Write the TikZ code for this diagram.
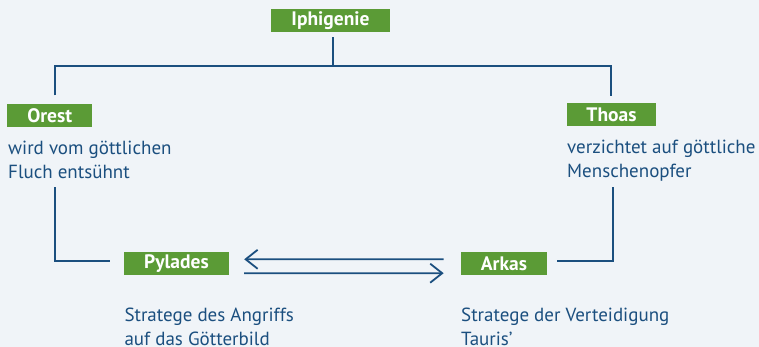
\documentclass[tikz,border=0pt]{standalone}
\usepackage{fontspec}
\setmainfont{PT Sans}
\usetikzlibrary{arrows.meta}
\definecolor{bgcol}{HTML}{F0F4F8}
\definecolor{boxgreen}{HTML}{5B9B36}
\definecolor{inkblue}{HTML}{1B4F7F}
\begin{document}
\begin{tikzpicture}[x=1pt,y=-1pt,
  person/.style={fill=boxgreen,text=white,font=\fontsize{19.5}{19.5}\selectfont\bfseries,
    minimum height=23pt,inner sep=0pt},
  note/.style={anchor=base west,inner sep=0pt,align=left,text=inkblue,
    font=\fontsize{19}{24}\selectfont},
  link/.style={draw=inkblue,line width=1.8pt},
  swap/.style={link,-{Straight Barb[length=12pt,width=19pt,line width=1.8pt]}}]
\path[fill=bgcol,use as bounding box] (0,0) rectangle (759,347);

\node[person,minimum width=119pt] (iphi) at (330.5,20.7) {Iphigenie};
\node[person,minimum width=84.7pt] (orest) at (49.7,115.8) {Orest};
\node[person,minimum width=89.6pt] (thoas) at (611.5,115) {Thoas};
\node[person,minimum width=104.4pt] (pyl) at (176.5,263.7) {Pylades};
\node[person,minimum width=86.3pt] (ark) at (504,263.6) {Arkas};

% base = Grundlinie der letzten Zeile
\node[note] (orestnote) at (8,178.3) {wird vom göttlichen\\Fluch entsühnt};
\node[note] (thoasnote) at (567,178) {verzichtet auf göttliche\\Menschenopfer};
\node[note] (pylnote) at (124.3,345.7) {Stratege des Angriffs\\auf das Götterbild};
\node[note] (arknote) at (461,345.7) {Stratege der Verteidigung\\Tauris’};

% Stammbaum oben
\coordinate (fork) at (333,65.7);
\coordinate (forkL) at (54.7,65.7);
\coordinate (forkR) at (611,65.7);
\draw[link] ([yshift=-5pt]iphi.south -| fork) -- (fork);
\draw[link] ([yshift=8.6pt]orest.north -| forkL) -- (forkL) -- (forkR)
  -- ([yshift=7.3pt]thoas.north -| forkR);

% Verbindungen unten
\coordinate (orestend) at (54.7,187.3);
\coordinate (thoasend) at (612.7,187.3);
\draw[link] (orestend) |- ([xshift=-14.3pt,yshift=2.7pt]pyl.west);
\draw[link] ([xshift=10pt,yshift=2.6pt]ark.east) -| (thoasend);

\draw[swap] ([xshift=-17pt,yshift=4.4pt]ark.west) -- ([xshift=15.3pt,yshift=4.4pt]pyl.east);
\draw[swap] ([xshift=15.3pt,yshift=-9.6pt]pyl.east) -- ([xshift=-17pt,yshift=-9.6pt]ark.west);
\end{tikzpicture}
\end{document}
